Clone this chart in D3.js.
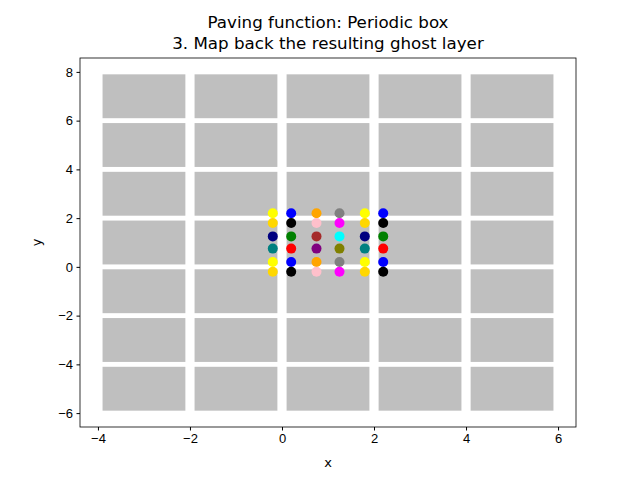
<!DOCTYPE html>
<html>
<head>
<meta charset="utf-8">
<script src="https://d3js.org/d3.v7.min.js"></script>
<style>body{margin:0;background:#fff}svg{font-family:"DejaVu Sans",sans-serif}</style>
</head>
<body>
<svg id="chart" width="640" height="480"></svg>
<script>
// Box grid: lower-left corners of the gray cells
var boxX = [-3.9, -1.9, 0.1, 2.1, 4.1]
var boxY = [-5.9, -3.9, -1.9, 0.1, 2.1, 4.1, 6.1]
var boxSize = 1.8
// Ghost points
var pointX = [-0.2, 0.2, 0.75, 1.25, 1.8, 2.2]
var pointY = [2.2, 1.8, 1.25, 0.75, 0.2, -0.2]
var pointColors = [
  ['yellow', 'blue', 'orange', 'gray', 'yellow', 'blue'],
  ['gold', 'black', 'pink', 'magenta', 'gold', 'black'],
  ['navy', 'green', 'brown', 'cyan', 'navy', 'green'],
  ['teal', 'red', 'purple', 'olive', 'teal', 'red'],
  ['yellow', 'blue', 'orange', 'gray', 'yellow', 'blue'],
  ['gold', 'black', 'pink', 'magenta', 'gold', 'black']
]
var xTicks = [-4, -2, 0, 2, 4, 6]
var yTicks = [-6, -4, -2, 0, 2, 4, 6, 8]

var svg = d3.select('#chart')
var pl = 80, pr = 576, pt = 58, pb = 427
var x = d3.scaleLinear().domain([-4.39, 6.39]).range([pl, pr])
var y = d3.scaleLinear().domain([-6.57, 8.57]).range([pb, pt])

var cells = []
boxX.forEach(function (bx) {
  boxY.forEach(function (by) { cells.push({ x: bx, y: by }) })
})
svg.selectAll('.cell').data(cells).enter().append('rect')
  .attr('x', function (d) { return x(d.x) })
  .attr('y', function (d) { return y(d.y + boxSize) })
  .attr('width', function (d) { return x(d.x + boxSize) - x(d.x) })
  .attr('height', function (d) { return y(d.y) - y(d.y + boxSize) })
  .attr('fill', '#bfbfbf')

var pts = []
pointY.forEach(function (py, i) {
  pointX.forEach(function (px, j) { pts.push({ x: px, y: py, c: pointColors[i][j] }) })
})
svg.selectAll('.pt').data(pts).enter().append('circle')
  .attr('cx', function (d) { return x(d.x) })
  .attr('cy', function (d) { return y(d.y) })
  .attr('r', 5)
  .attr('fill', function (d) { return d.c })

svg.append('rect').attr('x', pl).attr('y', pt)
  .attr('width', pr - pl).attr('height', pb - pt)
  .attr('fill', 'none').attr('stroke', '#000').attr('stroke-width', 0.8)

svg.append('g').attr('transform', 'translate(0,' + pb + ')')
  .call(d3.axisBottom(x).tickValues(xTicks).tickSize(3.5).tickPadding(3.5))
  .call(function (g) { g.select('.domain').remove() })
svg.append('g').attr('transform', 'translate(' + pl + ',0)')
  .call(d3.axisLeft(y).tickValues(yTicks).tickSize(3.5).tickPadding(3.5).tickFormat(d3.format('d')))
  .call(function (g) { g.select('.domain').remove() })
svg.selectAll('.tick text').attr('font-size', 13).attr('fill', '#000')
  .text(function (d) { return String(d).replace('-', '\u2212') })

svg.append('text').attr('x', (pl + pr) / 2).attr('y', 467)
  .attr('text-anchor', 'middle').attr('font-size', 13).text('x')
svg.append('text').attr('transform', 'translate(41,' + (pt + pb) / 2 + ') rotate(-90)')
  .attr('text-anchor', 'middle').attr('font-size', 13).text('y')
svg.append('text').attr('x', (pl + pr) / 2).attr('y', 28)
  .attr('text-anchor', 'middle').attr('font-size', 16.7).text('Paving function: Periodic box')
svg.append('text').attr('x', (pl + pr) / 2).attr('y', 49)
  .attr('text-anchor', 'middle').attr('font-size', 16.7).text('3. Map back the resulting ghost layer')
</script>
</body>
</html>
